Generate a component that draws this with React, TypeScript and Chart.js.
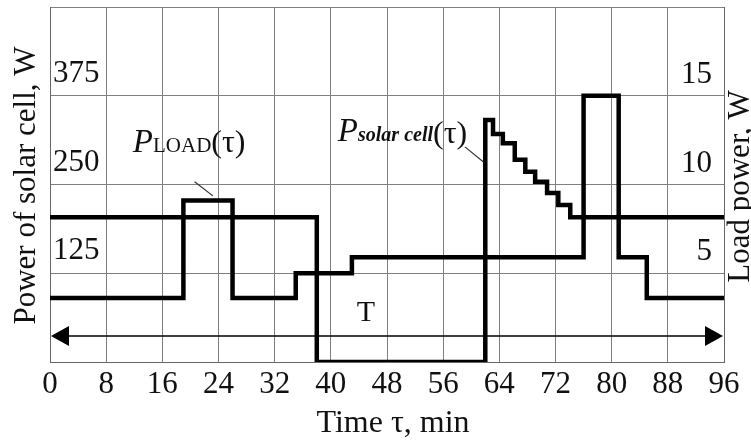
import React, { useEffect, useRef } from 'react';
import { Chart, registerables } from 'chart.js';

Chart.register(...registerables);

// ---- data ----
const timeMin = 0;
const timeMax = 96;
const timeStep = 8;

const solarMax = 500;
const solarStep = 125;
const loadMax = 20;
const loadStep = 5;

// Solar cell power, W (left axis), step function: value holds from time onward
const solarTimes = [0, 38, 62, 63.1, 64.5, 66.2, 67.7, 69.1, 70.8, 72.4, 74.1, 96];
const solarValues = [204, 0, 341, 321, 308, 285, 268, 254, 238, 221, 204, 204];

// Load power, W (right axis)
const loadTimes = [0, 19, 26, 35, 43, 76, 81, 85, 96];
const loadValues = [3.6, 9.1, 3.6, 5.0, 5.9, 15, 5.9, 3.6, 3.6];

// Period arrow "T" (left-axis units / minutes)
const periodLevel = 36.6;
const periodLabel = 'T';
const periodLabelPos = { t: 45, v: 69 };

// Label anchors (data units)
const loadLabelPos = { t: 11.8, v: 296 };
const loadLeader = [{ t: 20.6, v: 254 }, { t: 23.2, v: 234 }];
const solarLabelPos = { t: 41.0, v: 311 };
const solarLeader = [{ t: 59.1, v: 303 }, { t: 61.7, v: 282 }];

const xTitle = 'Time τ, min';
const yLeftTitle = 'Power of solar cell, W';
const yRightTitle = 'Load power, W';

const FONT = '"Liberation Serif", "Times New Roman", serif';
const TEXT = '#111111';
const GRID = '#808080';
const BORDER = '#666666';

const toXY = (ts: number[], vs: number[]) => ts.map((t, i) => ({ x: t, y: vs[i] }));

const zeroPad = (s: any) => {
  s.paddingTop = 0;
  s.paddingBottom = 0;
  s.paddingLeft = 0;
  s.paddingRight = 0;
};

const annotations = {
  id: 'annotations',
  afterDatasetsDraw(chart: any) {
    const { ctx, scales, chartArea } = chart;
    const x = scales.x;
    const y = scales.y;
    const px = (t: number) => x.getPixelForValue(t);
    const py = (v: number) => y.getPixelForValue(v);
    ctx.save();

    // period arrow
    const ay = py(periodLevel);
    const x0 = px(timeMin);
    const x1 = px(timeMax);
    ctx.strokeStyle = '#000';
    ctx.fillStyle = '#000';
    ctx.lineWidth = 1.5;
    ctx.beginPath();
    ctx.moveTo(x0 + 10, ay);
    ctx.lineTo(x1 - 10, ay);
    ctx.stroke();
    ctx.beginPath();
    ctx.moveTo(x0 + 1, ay);
    ctx.lineTo(x0 + 19, ay - 10);
    ctx.lineTo(x0 + 19, ay + 10);
    ctx.closePath();
    ctx.fill();
    ctx.beginPath();
    ctx.moveTo(x1 - 1, ay);
    ctx.lineTo(x1 - 19, ay - 10);
    ctx.lineTo(x1 - 19, ay + 10);
    ctx.closePath();
    ctx.fill();

    ctx.fillStyle = TEXT;
    ctx.textAlign = 'center';
    ctx.textBaseline = 'middle';
    ctx.font = `30px ${FONT}`;
    ctx.fillText(periodLabel, px(periodLabelPos.t), py(periodLabelPos.v));

    // leader lines
    ctx.strokeStyle = '#333';
    ctx.lineWidth = 1.2;
    for (const seg of [loadLeader, solarLeader]) {
      ctx.beginPath();
      ctx.moveTo(px(seg[0].t), py(seg[0].v));
      ctx.lineTo(px(seg[1].t), py(seg[1].v));
      ctx.stroke();
    }

    // P_LOAD(τ)
    ctx.textAlign = 'left';
    ctx.textBaseline = 'alphabetic';
    let cx = px(loadLabelPos.t);
    let cy = py(loadLabelPos.v);
    ctx.font = `italic 33px ${FONT}`;
    ctx.fillText('P', cx, cy);
    cx += ctx.measureText('P').width;
    ctx.font = `21px ${FONT}`;
    ctx.fillText('LOAD', cx, cy);
    cx += ctx.measureText('LOAD').width;
    ctx.font = `32px ${FONT}`;
    ctx.fillText('(τ)', cx, cy);

    // P_solar cell(τ)
    cx = px(solarLabelPos.t);
    cy = py(solarLabelPos.v);
    ctx.font = `italic 33px ${FONT}`;
    ctx.fillText('P', cx, cy);
    cx += ctx.measureText('P').width;
    ctx.font = `italic bold 20px ${FONT}`;
    ctx.fillText('solar cell', cx, cy);
    cx += ctx.measureText('solar cell').width;
    ctx.font = `32px ${FONT}`;
    ctx.fillText('(τ)', cx, cy + 2);

    // axis titles
    ctx.font = `32px ${FONT}`;
    ctx.textAlign = 'center';
    ctx.textBaseline = 'alphabetic';
    ctx.fillText(xTitle, (chartArea.left + chartArea.right) / 2 + 6, 432);

    ctx.font = `31px ${FONT}`;
    const midY = (chartArea.top + chartArea.bottom) / 2;
    ctx.save();
    ctx.translate(35, midY + 1);
    ctx.rotate(-Math.PI / 2);
    ctx.fillText(yLeftTitle, 0, 0);
    ctx.restore();

    ctx.save();
    ctx.translate(749, midY + 2);
    ctx.rotate(-Math.PI / 2);
    ctx.fillText(yRightTitle, 0, 0);
    ctx.restore();

    ctx.restore();
  },
};

export default function App() {
  const canvasRef = useRef<HTMLCanvasElement | null>(null);

  useEffect(() => {
    document.body.style.margin = '0';
    const canvas = canvasRef.current;
    if (!canvas) return;
    const chart = new Chart(canvas, {
      type: 'line',
      data: {
        datasets: [
          {
            label: 'P solar cell',
            data: toXY(solarTimes, solarValues),
            yAxisID: 'y',
            stepped: 'before',
            borderColor: '#000',
            borderWidth: 4.5,
            pointRadius: 0,
            fill: false,
            borderJoinStyle: 'miter',
          },
          {
            label: 'P load',
            data: toXY(loadTimes, loadValues),
            yAxisID: 'y1',
            stepped: 'before',
            borderColor: '#000',
            borderWidth: 4.5,
            pointRadius: 0,
            fill: false,
            borderJoinStyle: 'miter',
          },
        ],
      },
      options: {
        animation: false,
        responsive: false,
        devicePixelRatio: 1,
        layout: { padding: { top: 7, left: 0, right: 0, bottom: 0 } },
        plugins: {
          legend: { display: false },
          tooltip: { enabled: false },
          title: { display: false },
        },
        scales: {
          x: {
            type: 'linear',
            min: timeMin,
            max: timeMax,
            ticks: {
              stepSize: timeStep,
              color: TEXT,
              font: { family: FONT, size: 31 },
              padding: 4,
              maxRotation: 0,
              autoSkip: false,
            },
            grid: { color: GRID, lineWidth: 1, drawTicks: false },
            border: { color: BORDER, width: 1 },
            afterFit: (s: any) => { s.height = 78; zeroPad(s); },
          },
          y: {
            type: 'linear',
            position: 'left',
            min: 0,
            max: solarMax,
            ticks: {
              stepSize: solarStep,
              mirror: true,
              padding: 3,
              labelOffset: -22,
              color: TEXT,
              font: { family: FONT, size: 31 },
              callback: (v: any) => (v === 0 || v === solarMax ? '' : String(v)),
            },
            grid: { color: GRID, lineWidth: 1, drawTicks: false },
            border: { color: BORDER, width: 1 },
            afterFit: (s: any) => { s.width = 50; zeroPad(s); },
          },
          y1: {
            type: 'linear',
            position: 'right',
            min: 0,
            max: loadMax,
            ticks: {
              stepSize: loadStep,
              mirror: true,
              padding: -12,
              labelOffset: -21,
              color: TEXT,
              font: { family: FONT, size: 31 },
              callback: (v: any) => (v === 0 || v === loadMax ? '' : String(v)),
            },
            grid: { drawOnChartArea: false, drawTicks: false },
            border: { color: BORDER, width: 1 },
            afterFit: (s: any) => { s.width = 27; zeroPad(s); },
          },
        },
      } as any,
      plugins: [annotations],
    });
    return () => chart.destroy();
  }, []);

  return (
    <div style={{ position: 'absolute', left: 0, top: 0, width: 751, height: 440, background: '#fff' }}>
      <canvas ref={canvasRef} width={751} height={440} style={{ width: 751, height: 440 }} />
    </div>
  );
}
